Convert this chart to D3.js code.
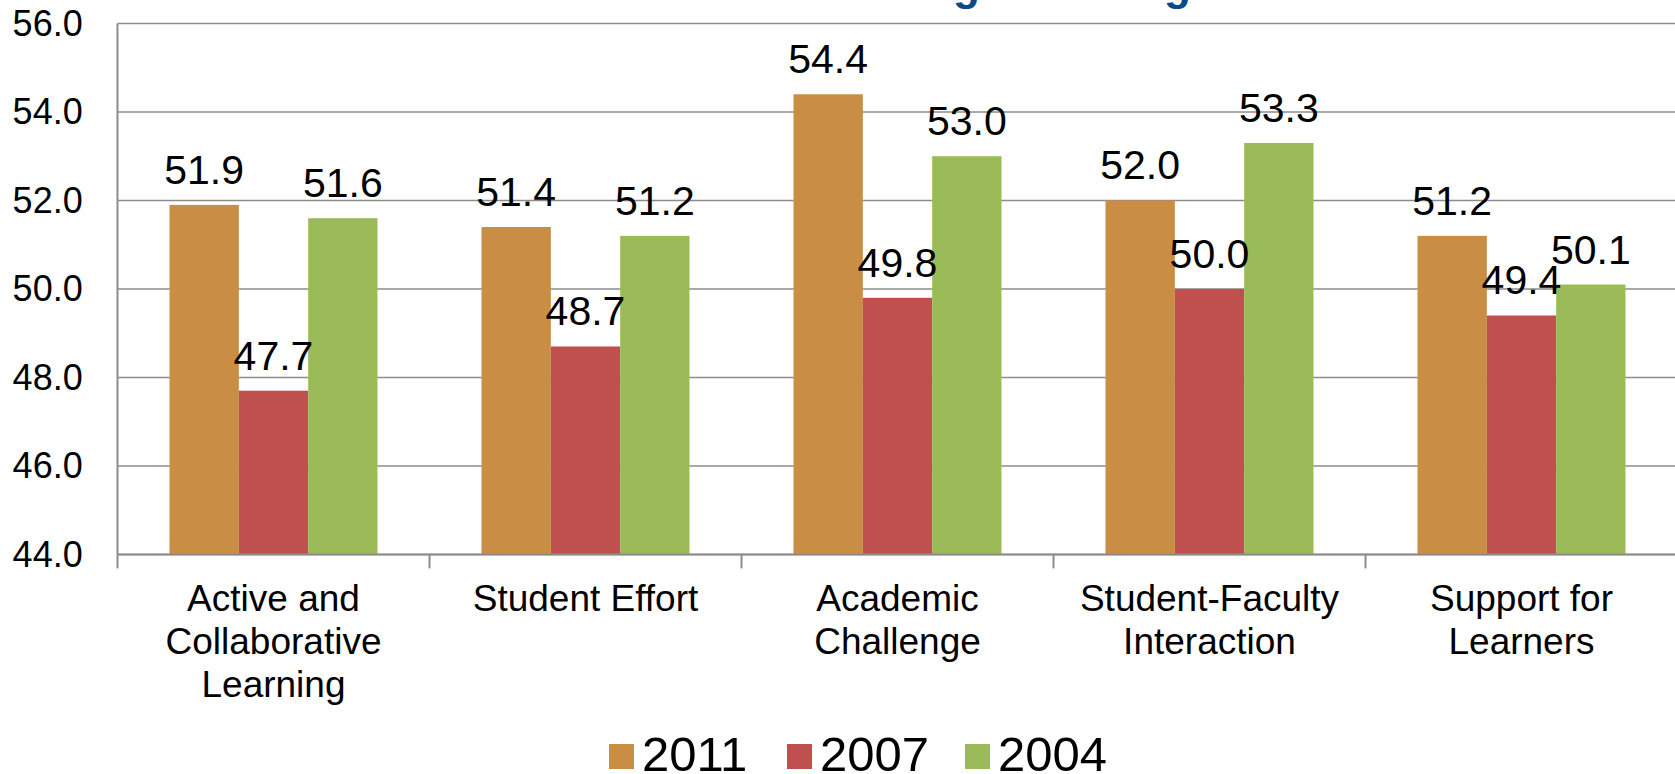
<!DOCTYPE html>
<html>
<head>
<meta charset="utf-8">
<script src="https://cdn.jsdelivr.net/npm/d3@7"></script>
<style>
  html, body { margin: 0; padding: 0; background: #ffffff; overflow: hidden; }
  svg { display: block; font-family: Arial, "Liberation Sans", sans-serif; }
</style>
</head>
<body>
<svg id="chart" width="1675" height="774"></svg>
<script>
// Benchmark scores by category for three survey years
const categories = [
  ["Active and", "Collaborative", "Learning"],
  ["Student Effort"],
  ["Academic", "Challenge"],
  ["Student-Faculty", "Interaction"],
  ["Support for", "Learners"]
];
const years = ["2011", "2007", "2004"];
const values2011 = [51.9, 51.4, 54.4, 52.0, 51.2];
const values2007 = [47.7, 48.7, 49.8, 50.0, 49.4];
const values2004 = [51.6, 51.2, 53.0, 53.3, 50.1];
const yTicks = [44, 46, 48, 50, 52, 54, 56];
const colors = ["#C98E43", "#C0504D", "#9BBB59"];
const titleText = "Benchmark Averages Among Administrations";

const seriesValues = [values2011, values2007, values2004];
const rows = categories.map((c, i) => ({
  key: i,
  lines: c,
  vals: years.map((yr, j) => ({ year: yr, value: seriesValues[j][i], color: colors[j] }))
}));

const svg = d3.select("#chart");
const plotLeft = 117.5, plotRight = 1677.5, plotTop = 23.5, plotBottom = 554.4;

const x0 = d3.scaleBand()
  .domain(rows.map(r => r.key))
  .range([plotLeft, plotRight])
  .paddingInner(1 / 3)
  .paddingOuter(1 / 6);
const x1 = d3.scaleBand().domain(years).range([0, x0.bandwidth()]);
const y = d3.scaleLinear().domain([44, 56]).range([plotBottom, plotTop]);

// Title (sits mostly above the visible area)
const title = svg.append("text")
  .attr("y", 0)
  .attr("fill", "#0D4A86")
  .attr("font-weight", "bold")
  .attr("font-size", 44)
  .text(titleText);
const gIdx = titleText.indexOf("g");
const pre = title.node().getSubStringLength(0, gIdx);
title.attr("x", 953 - pre);

// Horizontal gridlines
svg.append("g")
  .selectAll("line")
  .data(yTicks)
  .join("line")
  .attr("x1", plotLeft).attr("x2", plotRight)
  .attr("y1", d => y(d)).attr("y2", d => y(d))
  .attr("stroke", "#8C8C8C")
  .attr("stroke-width", 1.5);

// Y tick labels
svg.append("g")
  .selectAll("text")
  .data(yTicks)
  .join("text")
  .attr("x", 82.7)
  .attr("y", d => y(d) + 12.5)
  .attr("text-anchor", "end")
  .attr("font-size", 36)
  .attr("fill", "#000")
  .text(d => d.toFixed(1));

// Bars
const groups = svg.append("g")
  .selectAll("g")
  .data(rows)
  .join("g")
  .attr("transform", d => `translate(${x0(d.key)},0)`);

groups.selectAll("rect")
  .data(d => d.vals)
  .join("rect")
  .attr("x", d => x1(d.year))
  .attr("width", x1.bandwidth())
  .attr("y", d => y(d.value))
  .attr("height", d => y(44) - y(d.value))
  .attr("fill", d => d.color);

// Value labels
groups.selectAll("text")
  .data(d => d.vals)
  .join("text")
  .attr("x", d => x1(d.year) + x1.bandwidth() / 2)
  .attr("y", d => y(d.value) - 21)
  .attr("text-anchor", "middle")
  .attr("font-size", 41)
  .attr("fill", "#000")
  .text(d => d.value.toFixed(1));

// Axis lines and category tick marks
svg.append("line")
  .attr("x1", plotLeft).attr("x2", plotLeft)
  .attr("y1", plotTop).attr("y2", plotBottom)
  .attr("stroke", "#8C8C8C").attr("stroke-width", 2);
svg.append("line")
  .attr("x1", plotLeft).attr("x2", plotRight)
  .attr("y1", plotBottom).attr("y2", plotBottom)
  .attr("stroke", "#8C8C8C").attr("stroke-width", 2);
const halfGap = (x0.step() - x0.bandwidth()) / 2;
svg.append("g")
  .selectAll("line")
  .data(rows)
  .join("line")
  .attr("x1", d => x0(d.key) - halfGap).attr("x2", d => x0(d.key) - halfGap)
  .attr("y1", plotBottom).attr("y2", plotBottom + 14)
  .attr("stroke", "#8C8C8C").attr("stroke-width", 2);

// Category labels
const catLabels = svg.append("g")
  .selectAll("text")
  .data(rows)
  .join("text")
  .attr("text-anchor", "middle")
  .attr("font-size", 37)
  .attr("fill", "#000");
catLabels.selectAll("tspan")
  .data(d => d.lines.map((l, i) => ({ l, i, cx: x0(d.key) + x0.bandwidth() / 2 })))
  .join("tspan")
  .attr("x", d => d.cx)
  .attr("y", d => 611 + d.i * 42.8)
  .text(d => d.l);

// Legend
const legend = svg.append("g")
  .selectAll("g")
  .data(years)
  .join("g")
  .attr("transform", (d, i) => `translate(${609 + i * 178},0)`);
legend.append("rect")
  .attr("x", 0).attr("y", 744)
  .attr("width", 25).attr("height", 25)
  .attr("fill", (d, i) => colors[i]);
legend.append("text")
  .attr("x", 33).attr("y", 770.5)
  .attr("font-size", 49)
  .attr("fill", "#000")
  .text(d => d);
</script>
</body>
</html>
